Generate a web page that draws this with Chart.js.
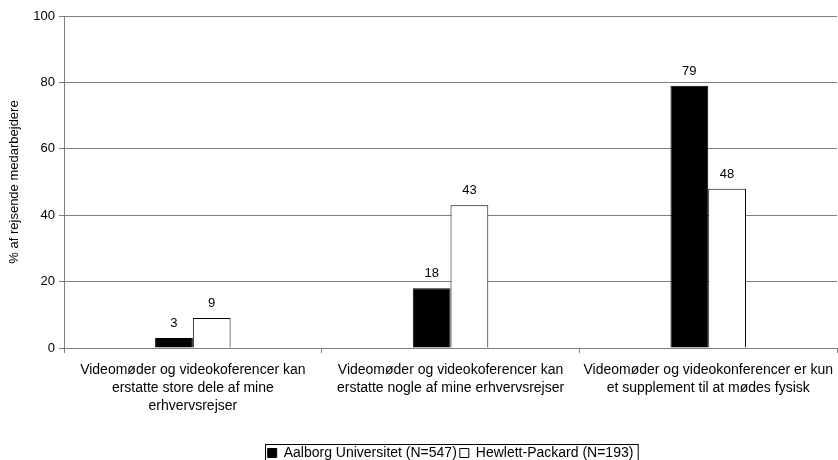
<!DOCTYPE html>
<html>
<head>
<meta charset="utf-8">
<script src="https://cdn.jsdelivr.net/npm/chart.js@4/dist/chart.umd.min.js"></script>
<style>
  html, body { margin: 0; padding: 0; background: #fff; overflow: hidden; }
  #wrap { width: 841px; height: 460px; position: relative; }
</style>
</head>
<body>
<div id="wrap"><canvas id="videoChart"></canvas></div>
<script>
const categories = [
    ["Videomøder og videokoferencer kan", "erstatte store dele af mine", "erhvervsrejser"],
    ["Videomøder og videokoferencer kan", "erstatte nogle af mine erhvervsrejser"],
    ["Videomøder og videokonferencer er kun", "et supplement til at mødes fysisk"]
];
const aalborg = [3, 18, 79];
const hp = [9, 43, 48];
const seriesNames = ["Aalborg Universitet (N=547)", "Hewlett-Packard (N=193)"];
const yTicks = [0, 20, 40, 60, 80, 100];

const FONT = "'Liberation Sans', Arial, sans-serif";
const GRID = '#7f7f7f';

// value labels over each bar
const valueLabels = {
    id: 'valueLabels',
    afterDatasetsDraw(chart) {
        const ctx = chart.ctx;
        ctx.save();
        ctx.font = `13px ${FONT}`;
        ctx.fillStyle = '#000';
        ctx.textAlign = 'center';
        ctx.textBaseline = 'bottom';
        chart.data.datasets.forEach((ds, i) => {
            chart.getDatasetMeta(i).data.forEach((bar, j) => {
                ctx.fillText(ds.data[j], bar.x, bar.y - 8);
            });
        });
        ctx.restore();
    }
};

// legend sits centred under the plot area (not the canvas), with a frame round it
const legendFrame = {
    id: 'legendFrame',
    afterLayout(chart) {
        const lg = chart.legend;
        if (!lg) return;
        const shift = (chart.chartArea.left + chart.chartArea.right) / 2 - (lg.left + lg.right) / 2;
        lg.left += shift;
        lg.right += shift;
        (lg.legendHitBoxes || []).forEach(b => { b.left += shift; });
    },
    afterDraw(chart) {
        const boxes = chart.legend && chart.legend.legendHitBoxes;
        if (!boxes || !boxes.length) return;
        const left = Math.min(...boxes.map(b => b.left)) - 3;
        const right = Math.max(...boxes.map(b => b.left + b.width)) + 4;
        const top = Math.min(...boxes.map(b => b.top)) - 2;
        const ctx = chart.ctx;
        ctx.save();
        ctx.strokeStyle = '#000';
        ctx.lineWidth = 1;
        ctx.strokeRect(Math.round(left) + 0.5, Math.round(top) + 0.5, right - left, 40);
        ctx.restore();
    }
};

new Chart(document.getElementById('videoChart').getContext('2d'), {
    type: 'bar',
    data: {
        labels: categories,
        datasets: [{
            label: seriesNames[0],
            data: aalborg,
            backgroundColor: '#000000',
            borderColor: '#000000',
            borderWidth: 1,
        }, {
            label: seriesNames[1],
            data: hp,
            backgroundColor: '#ffffff',
            borderColor: '#000000',
            borderWidth: 1,
        }],
    },
    options: {
        responsive: true,
        maintainAspectRatio: false,
        animation: false,
        categoryPercentage: 0.293,
        barPercentage: 1.0,
        layout: { padding: { top: 16, left: 0, right: 0, bottom: -10 } },
        plugins: {
            tooltip: { enabled: false },
            legend: {
                position: 'bottom',
                labels: {
                    color: '#000',
                    font: { family: FONT, size: 14 },
                    boxWidth: 9,
                    boxHeight: 9,
                    padding: 3,
                },
            },
        },
        scales: {
            x: {
                offset: true,
                grid: {
                    offset: true,
                    drawOnChartArea: false,
                    drawTicks: true,
                    tickLength: 5,
                    color: GRID,
                },
                border: { color: GRID },
                ticks: {
                    color: '#000',
                    font: { family: FONT, size: 14, lineHeight: 1.28 },
                    maxRotation: 0,
                    autoSkip: false,
                    padding: 8,
                },
                afterFit(scale) { scale.height = 95; },
            },
            y: {
                min: 0,
                max: 100,
                afterBuildTicks(scale) { scale.ticks = yTicks.map(v => ({ value: v })); },
                grid: {
                    color: GRID,
                    tickLength: 5,
                },
                border: { color: GRID },
                ticks: {
                    color: '#000',
                    font: { family: FONT, size: 13 },
                    padding: 4,
                },
                title: {
                    display: true,
                    text: '% af rejsende medarbejdere',
                    color: '#000',
                    font: { family: FONT, size: 13 },
                    padding: { top: 7, bottom: 0 },
                },
                afterFit(scale) { scale.width = 64; },
            },
        },
    },
    plugins: [valueLabels, legendFrame],
});
</script>
</body>
</html>
